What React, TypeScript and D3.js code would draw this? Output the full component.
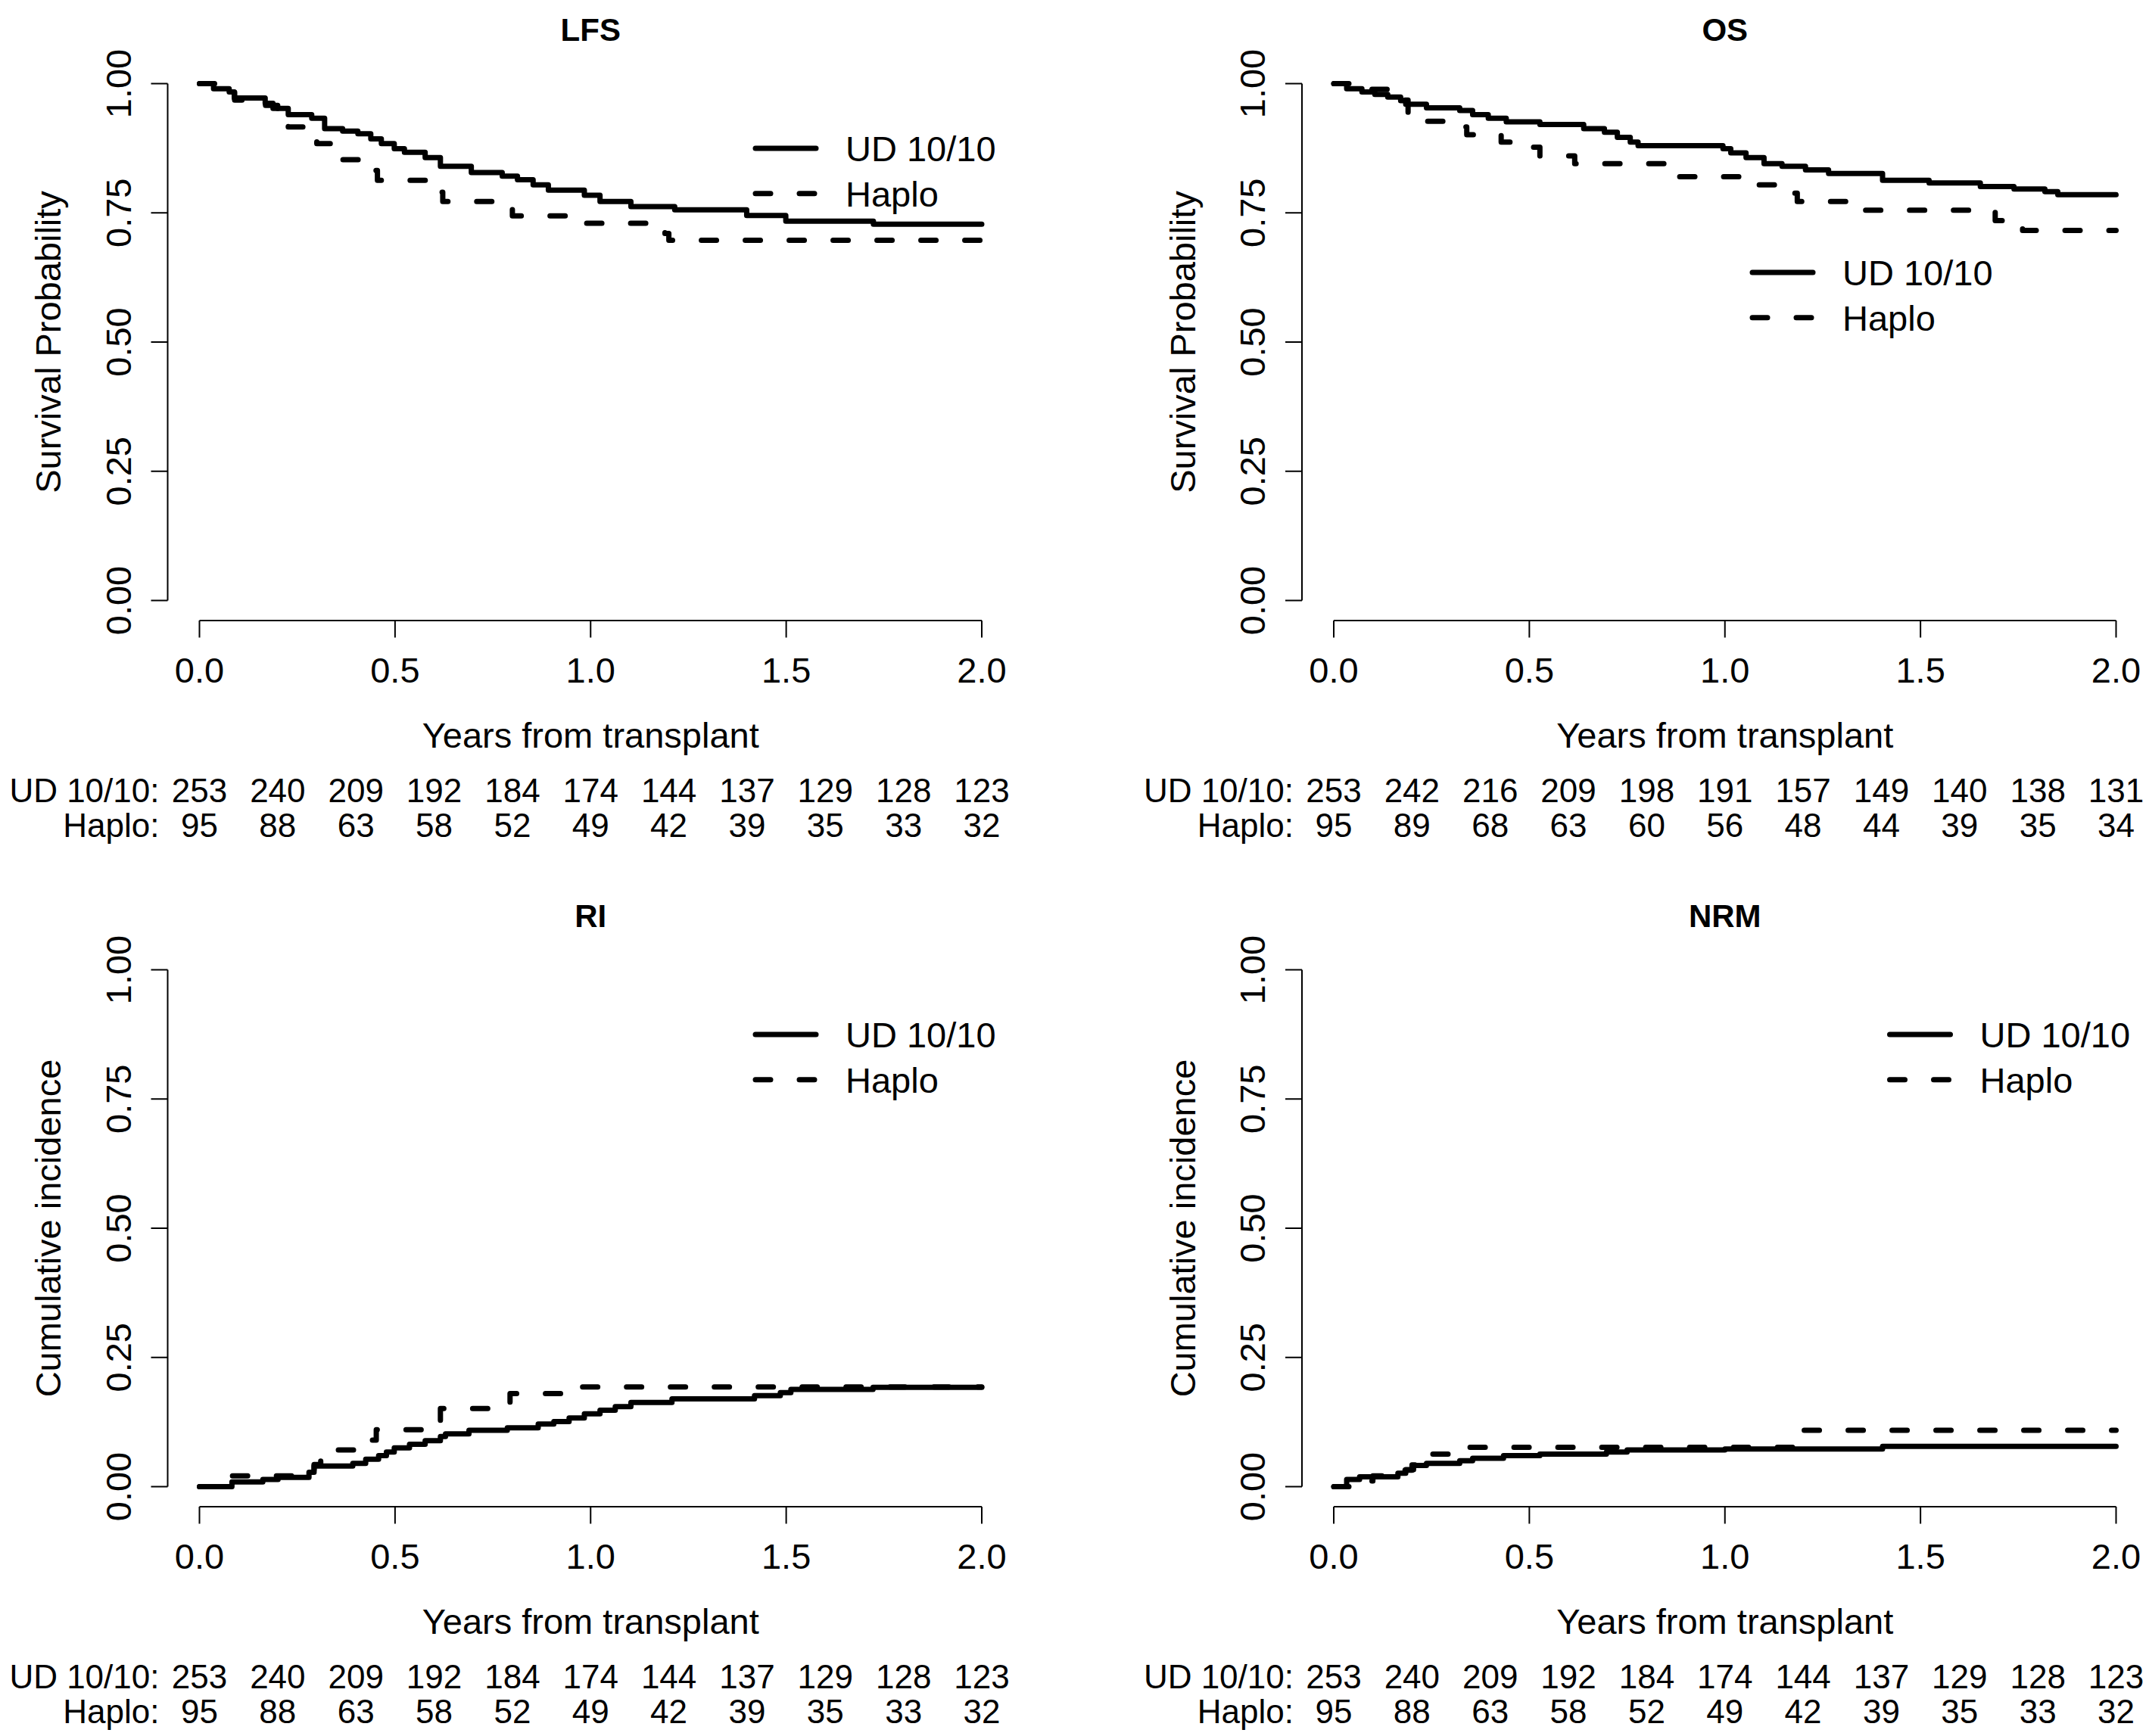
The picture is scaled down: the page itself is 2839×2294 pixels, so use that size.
import * as d3 from 'd3';

const FONT = '"Liberation Sans", Arial, Helvetica, sans-serif';

const xTicks = [0, 0.5, 1, 1.5, 2];
const yTicks = [0, 0.25, 0.5, 0.75, 1];
const riskTimes = [0, 0.2, 0.4, 0.6, 0.8, 1.0, 1.2, 1.4, 1.6, 1.8, 2.0];
const groups = ['UD 10/10', 'Haplo'];

// LFS
const lfsUdTime = [0, 0.036, 0.076, 0.089, 0.168, 0.188, 0.227, 0.287, 0.32, 0.366, 0.405, 0.438, 0.465, 0.498, 0.524, 0.577, 0.616, 0.695, 0.774, 0.813, 0.853, 0.892, 0.984, 1.024, 1.103, 1.215, 1.399, 1.499, 1.723, 2.0];
const lfsUdSurv = [1, 0.99, 0.984, 0.972, 0.962, 0.952, 0.94, 0.933, 0.913, 0.908, 0.903, 0.893, 0.884, 0.874, 0.867, 0.857, 0.84, 0.828, 0.821, 0.814, 0.804, 0.794, 0.784, 0.772, 0.762, 0.756, 0.745, 0.734, 0.728, 0.728];
const lfsHaploTime = [0, 0.05, 0.09, 0.15, 0.2, 0.227, 0.27, 0.3, 0.345, 0.44, 0.455, 0.612, 0.622, 0.8, 0.97, 1.19, 1.2, 2.0];
const lfsHaploSurv = [1, 0.989, 0.968, 0.958, 0.926, 0.916, 0.895, 0.884, 0.853, 0.832, 0.813, 0.79, 0.772, 0.744, 0.73, 0.71, 0.697, 0.697];
const lfsUdRisk = [253, 240, 209, 192, 184, 174, 144, 137, 129, 128, 123];
const lfsHaploRisk = [95, 88, 63, 58, 52, 49, 42, 39, 35, 33, 32];

// OS
const osUdTime = [0, 0.033, 0.072, 0.105, 0.138, 0.171, 0.184, 0.237, 0.322, 0.355, 0.395, 0.441, 0.527, 0.639, 0.692, 0.725, 0.758, 0.778, 0.995, 1.015, 1.054, 1.1, 1.146, 1.206, 1.265, 1.403, 1.522, 1.653, 1.739, 1.818, 1.851, 2.0];
const osUdSurv = [1, 0.99, 0.984, 0.979, 0.974, 0.967, 0.96, 0.953, 0.948, 0.94, 0.933, 0.926, 0.921, 0.913, 0.906, 0.896, 0.887, 0.88, 0.874, 0.866, 0.857, 0.845, 0.84, 0.833, 0.826, 0.813, 0.808, 0.801, 0.796, 0.791, 0.785, 0.785];
const osHaploTime = [0, 0.08, 0.14, 0.19, 0.33, 0.34, 0.428, 0.47, 0.527, 0.616, 0.857, 1.053, 1.175, 1.185, 1.327, 1.691, 1.761, 2.0];
const osHaploSurv = [1, 0.989, 0.968, 0.927, 0.916, 0.901, 0.887, 0.877, 0.86, 0.845, 0.82, 0.804, 0.788, 0.772, 0.755, 0.735, 0.716, 0.716];
const osUdRisk = [253, 242, 216, 209, 198, 191, 157, 149, 140, 138, 131];
const osHaploRisk = [95, 89, 68, 63, 60, 56, 48, 44, 39, 35, 34];

// RI
const riUdTime = [0, 0.083, 0.162, 0.201, 0.28, 0.293, 0.392, 0.425, 0.458, 0.478, 0.498, 0.537, 0.577, 0.616, 0.629, 0.689, 0.787, 0.866, 0.906, 0.945, 0.984, 1.024, 1.063, 1.103, 1.208, 1.419, 1.485, 1.512, 1.722, 2.0];
const riUdCif = [0, 0.009, 0.014, 0.018, 0.028, 0.04, 0.045, 0.053, 0.06, 0.067, 0.075, 0.082, 0.089, 0.097, 0.102, 0.109, 0.114, 0.121, 0.126, 0.133, 0.141, 0.148, 0.155, 0.163, 0.17, 0.176, 0.182, 0.188, 0.192, 0.192];
const riHaploTime = [0, 0.083, 0.293, 0.31, 0.438, 0.452, 0.616, 0.794, 0.945, 2.0];
const riHaploCif = [0, 0.021, 0.043, 0.071, 0.09, 0.11, 0.151, 0.18, 0.193, 0.193];

// NRM
const nrmUdTime = [0, 0.033, 0.066, 0.164, 0.184, 0.204, 0.237, 0.322, 0.355, 0.434, 0.527, 0.697, 0.75, 1.0, 1.403, 2.0];
const nrmUdCif = [0, 0.014, 0.019, 0.026, 0.033, 0.041, 0.045, 0.05, 0.055, 0.06, 0.063, 0.067, 0.071, 0.073, 0.078, 0.078];
const nrmHaploTime = [0, 0.05, 0.1, 0.16, 0.2, 0.24, 0.315, 1.185, 2.0];
const nrmHaploCif = [0, 0.011, 0.021, 0.032, 0.042, 0.063, 0.076, 0.109, 0.109];

const plot = { left: 263.5, right: 1297, top: 110.5, bottom: 793.5 };
const DASH = '20 38';
const LW = 7;

type Series = { time: number[]; value: number[] };

function Panel({
  ox,
  oy,
  title,
  yLabel,
  ud,
  haplo,
  udRisk,
  haploRisk,
  legend,
}: {
  ox: number;
  oy: number;
  title: string;
  yLabel: string;
  ud: Series;
  haplo: Series;
  udRisk: number[];
  haploRisk: number[];
  legend: { x: number; y: number };
}) {
  const x = d3.scaleLinear([0, 2], [plot.left, plot.right]);
  const y = d3.scaleLinear([0, 1], [plot.bottom, plot.top]);

  const path = (s: Series) =>
    d3
      .line<[number, number]>()
      .x((d) => x(d[0]))
      .y((d) => y(d[1]))
      .curve(d3.curveStepAfter)(s.time.map((t, i) => [t, s.value[i]]));

  const axisX = plot.left - 42;
  const axisY = plot.bottom + 26.5;
  const cx = (plot.left + plot.right) / 2;
  const cy = (plot.top + plot.bottom) / 2;
  const riskLabelX = plot.left - 53;

  return (
    <g transform={`translate(${ox}, ${oy})`} fontFamily={FONT} fill="#000">
      <text x={cx} y={54} textAnchor="middle" fontWeight="bold" fontSize={42}>
        {title}
      </text>

      {/* y axis */}
      <line x1={axisX} x2={axisX} y1={y(0)} y2={y(1)} stroke="#000" strokeWidth={2} />
      {yTicks.map((t) => (
        <g key={t}>
          <line x1={axisX - 22} x2={axisX} y1={y(t)} y2={y(t)} stroke="#000" strokeWidth={2} />
          <text
            transform={`translate(172.5, ${y(t)}) rotate(-90)`}
            textAnchor="middle"
            fontSize={47}
          >
            {t.toFixed(2)}
          </text>
        </g>
      ))}
      <text transform={`translate(80, ${cy}) rotate(-90)`} textAnchor="middle" fontSize={47}>
        {yLabel}
      </text>

      {/* x axis */}
      <line x1={x(0)} x2={x(2)} y1={axisY} y2={axisY} stroke="#000" strokeWidth={2} />
      {xTicks.map((t) => (
        <g key={t}>
          <line x1={x(t)} x2={x(t)} y1={axisY} y2={axisY + 22.5} stroke="#000" strokeWidth={2} />
          <text x={x(t)} y={901.7} textAnchor="middle" fontSize={47}>
            {t.toFixed(1)}
          </text>
        </g>
      ))}
      <text x={cx} y={987.5} textAnchor="middle" fontSize={47}>
        Years from transplant
      </text>

      {/* curves */}
      <path d={path(ud) ?? ''} fill="none" stroke="#000" strokeWidth={LW} strokeLinejoin="round" strokeLinecap="round" />
      <path
        d={path(haplo) ?? ''}
        fill="none"
        stroke="#000"
        strokeWidth={LW}
        strokeDasharray={DASH}
        strokeLinejoin="round"
        strokeLinecap="round"
      />

      {/* legend */}
      {groups.map((g, i) => (
        <g key={g}>
          <line
            x1={legend.x}
            x2={legend.x + 80}
            y1={legend.y + i * 59.7}
            y2={legend.y + i * 59.7}
            stroke="#000"
            strokeWidth={LW}
            strokeLinecap="round"
            strokeDasharray={i === 1 ? DASH : undefined}
          />
          <text x={legend.x + 119} y={legend.y + i * 59.7 + 17.3} fontSize={47}>
            {g}
          </text>
        </g>
      ))}

      {/* risk table */}
      <text x={riskLabelX} y={1060} textAnchor="end" fontSize={44}>
        {groups[0]}:
      </text>
      <text x={riskLabelX} y={1106} textAnchor="end" fontSize={44}>
        {groups[1]}:
      </text>
      {riskTimes.map((t, i) => (
        <g key={t}>
          <text x={x(t)} y={1060} textAnchor="middle" fontSize={44}>
            {udRisk[i]}
          </text>
          <text x={x(t)} y={1106} textAnchor="middle" fontSize={44}>
            {haploRisk[i]}
          </text>
        </g>
      ))}
    </g>
  );
}

export default function App() {
  const dx = 1498.5;
  const dy = 1171;
  const stdLegend = { x: plot.right - 299, y: plot.top + 85.5 };
  return (
    <svg
      width={2839}
      height={2294}
      style={{ position: 'absolute', left: 0, top: 0, background: '#fff' }}
    >
      <rect width={2839} height={2294} fill="#fff" />
      <Panel
        ox={0}
        oy={0}
        title="LFS"
        yLabel="Survival Probability"
        ud={{ time: lfsUdTime, value: lfsUdSurv }}
        haplo={{ time: lfsHaploTime, value: lfsHaploSurv }}
        udRisk={lfsUdRisk}
        haploRisk={lfsHaploRisk}
        legend={stdLegend}
      />
      <Panel
        ox={dx}
        oy={0}
        title="OS"
        yLabel="Survival Probability"
        ud={{ time: osUdTime, value: osUdSurv }}
        haplo={{ time: osHaploTime, value: osHaploSurv }}
        udRisk={osUdRisk}
        haploRisk={osHaploRisk}
        legend={{ x: plot.right - 480.5, y: plot.top + 249.5 }}
      />
      <Panel
        ox={0}
        oy={dy}
        title="RI"
        yLabel="Cumulative incidence"
        ud={{ time: riUdTime, value: riUdCif }}
        haplo={{ time: riHaploTime, value: riHaploCif }}
        udRisk={lfsUdRisk}
        haploRisk={lfsHaploRisk}
        legend={stdLegend}
      />
      <Panel
        ox={dx}
        oy={dy}
        title="NRM"
        yLabel="Cumulative incidence"
        ud={{ time: nrmUdTime, value: nrmUdCif }}
        haplo={{ time: nrmHaploTime, value: nrmHaploCif }}
        udRisk={lfsUdRisk}
        haploRisk={lfsHaploRisk}
        legend={stdLegend}
      />
    </svg>
  );
}
